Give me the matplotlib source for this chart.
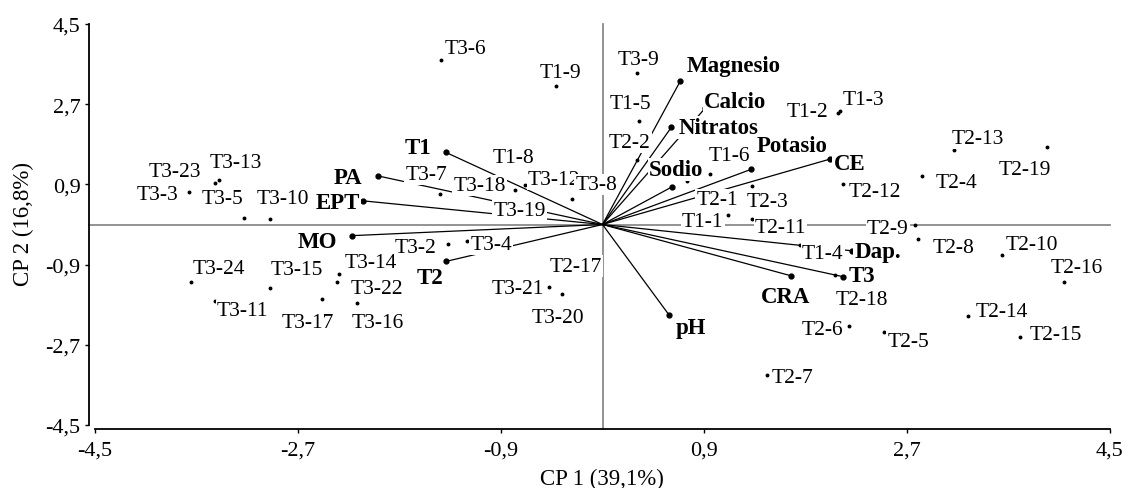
import matplotlib
matplotlib.use('Agg')
import matplotlib.pyplot as plt

# ---------------- data ----------------
sample_names = ['T3-6', 'T1-9', 'T3-9', 'T1-5', 'T2-2', 'T1-2', 'T1-3', 'T1-6', 'T2-1', 'T2-3',
                'T1-1', 'T2-11', 'T2-9', 'T2-12', 'T2-4', 'T2-13', 'T2-19', 'T2-8', 'T2-10', 'T2-16',
                'T2-14', 'T2-15', 'T2-5', 'T2-6', 'T2-7', 'T2-18', 'T1-4', 'T2-17', 'T3-21', 'T3-20',
                'T3-2', 'T3-4', 'T3-19', 'T3-12', 'T3-8', 'T1-8', 'T3-18', 'T3-7', 'T3-23', 'T3-13',
                'T3-3', 'T3-5', 'T3-10', 'T3-24', 'T3-15', 'T3-14', 'T3-22', 'T3-11', 'T3-17', 'T3-16']
sample_x = [-1.43, -0.41, 0.31, 0.32, 0.31, 2.09, 2.11, 0.95, 0.75, 1.33,
            1.11, 1.33, 2.77, 2.13, 2.83, 3.12, 3.94, 2.80, 3.54, 4.09,
            3.24, 3.70, 2.50, 2.19, 1.46, 2.06, 1.75, -0.11, -0.47, -0.36,
            -1.37, -1.20, -0.64, -0.27, -0.02, -0.69, -0.78, -1.44, -3.44, -3.40,
            -3.67, -3.18, -2.95, -3.65, -2.95, -2.34, -2.35, -3.44, -2.49, -2.18]
sample_y = [3.70, 3.10, 3.41, 2.33, 1.45, 2.50, 2.54, 1.13, 0.98, 0.86,
            0.22, 0.12, 0.00, 0.91, 1.08, 1.68, 1.74, -0.33, -0.68, -1.28,
            -2.06, -2.53, -2.42, -2.27, -3.37, -1.13, -0.46, -0.82, -1.41, -1.57,
            -0.44, -0.36, 0.35, 0.57, 0.80, 0.89, 0.77, 0.68, 0.93, 1.00,
            0.74, 0.15, 0.12, -1.28, -1.42, -1.11, -1.30, -1.72, -1.67, -1.76]

var_names = ['Magnesio', 'Calcio', 'Nitratos', 'Sodio', 'Potasio', 'CE', 'Dap.', 'T3', 'CRA',
             'pH', 'MO', 'T2', 'EPT', 'PA', 'T1']
var_x = [0.69, 0.91, 0.61, 0.62, 1.32, 2.02, 2.21, 2.13, 1.67, 0.59, -2.22, -1.39, -2.12, -1.99, -1.39]
var_y = [3.22, 2.61, 2.18, 0.85, 1.24, 1.47, -0.59, -1.17, -1.15, -2.03, -0.25, -0.83, 0.53, 1.09, 1.62]

ticks = [-4.5, -2.7, -0.9, 0.9, 2.7, 4.5]
tick_labels = ['-4,5', '-2,7', '-0,9', '0,9', '2,7', '4,5']
x_title = 'CP 1 (39,1%)'
y_title = 'CP 2 (16,8%)'

# ---------------- layout (label offsets in pixels: dx to centre, dy to baseline) ----------------
sample_offsets = {
    'T3-6': (24, 6.5), 'T1-9': (4, 9.5), 'T3-9': (1, 8.5), 'T1-5': (-8, 12.5), 'T2-2': (-7.5, 13.3),
    'T1-2': (-31, -2.5), 'T1-3': (23, 7.5), 'T1-6': (20, 14.5), 'T2-1': (30, -23.5), 'T2-3': (15, -19.5),
    'T1-1': (-25, -11), 'T2-11': (28, -12.5), 'T2-9': (-27, -8), 'T2-12': (32, -12.5), 'T2-4': (35, -10.5),
    'T2-13': (23, 6.5), 'T2-19': (-22, -27.5), 'T2-8': (35, -12.5), 'T2-10': (30, 5.5), 'T2-16': (13, 9.5),
    'T2-14': (34, 0.5), 'T2-15': (36, -1.5), 'T2-5': (24, -13.5), 'T2-6': (-27, -8.5), 'T2-7': (25, -7.5),
    'T2-18': (27, -29.5), 'T1-4': (23, -13.5), 'T2-17': (-14, -9.5), 'T3-21': (-32, -5.5), 'T3-20': (-4, -27.5),
    'T3-2': (-32, -7.5), 'T3-4': (24, -8.5), 'T3-19': (-11, -6.5), 'T3-12': (-18, 15.5), 'T3-8': (-4, 0),
    'T1-8': (-11, 22.5), 'T3-18': (-35, 0.5), 'T3-7': (-14, 15.5), 'T3-23': (-40, 7.5), 'T3-13': (17, 12.5),
    'T3-3': (-31, -7.5), 'T3-5': (-21, 14.5), 'T3-10': (13, 16.5), 'T3-24': (28, 8.5), 'T3-15': (27, 13.5),
    'T3-14': (32, 6.5), 'T3-22': (39, -10.5), 'T3-11': (28, -13.5), 'T3-17': (-14, -28.5), 'T3-16': (21, -24.5),
}
var_offsets = {
    'Magnesio': (53.5, 9.7), 'Calcio': (30, 1.5), 'Nitratos': (47, -5.5), 'Sodio': (4, 11.5),
    'Potasio': (41, 18.5), 'CE': (19, -9.5), 'Dap.': (26, -6.3), 'T3': (19, -4.5), 'CRA': (-5, -26.5),
    'pH': (22, -18), 'MO': (-35, -11.5), 'T2': (-16, -21.5), 'EPT': (-26, -7.5), 'PA': (-30, -7.5),
    'T1': (-28, -0.5),
}

plt.rcParams['font.family'] = ['Liberation Serif', 'DejaVu Serif']

W, H = 1135, 489
fig = plt.figure(figsize=(W / 100, H / 100), dpi=100)
ax = fig.add_axes([95 / W, 63 / H, 1015 / W, 401 / H])
ax.set_xlim(-4.5, 4.5)
ax.set_ylim(-4.5, 4.5)

# reference lines
ax.axhline(0, xmin=-0.006, xmax=1.0, color='#8a8a8a', lw=1.3, zorder=1, clip_on=False)
ax.axvline(0, ymin=-0.01, ymax=1.0, color='#8a8a8a', lw=1.3, zorder=1, clip_on=False)

# variable vectors
for vx, vy in zip(var_x, var_y):
    ax.plot([0, vx], [0, vy], color='black', lw=0.9, zorder=2, solid_capstyle='butt')
ax.plot(var_x, var_y, 'o', color='black', markersize=3.5, zorder=2.5, linestyle='none')

# sample points
ax.plot(sample_x, sample_y, 'o', color='black', markersize=1.8, zorder=2.5, linestyle='none')

box = dict(boxstyle='square,pad=0.05', fc='white', ec='none')
for n, x, y in zip(sample_names, sample_x, sample_y):
    dx, dy = sample_offsets[n]
    ax.annotate(n, (x, y), xytext=(dx, dy), textcoords='offset pixels', ha='center', va='baseline',
                fontsize=15.5, color='black', bbox=box, zorder=3)
for n, x, y in zip(var_names, var_x, var_y):
    dx, dy = var_offsets[n]
    ax.annotate(n, (x, y), xytext=(dx, dy), textcoords='offset pixels', ha='center', va='baseline',
                fontsize=16.5, fontweight='bold', color='black', bbox=box, zorder=3)

# axes styling
for s in ['top', 'right']:
    ax.spines[s].set_visible(False)
ax.spines['left'].set_position(('outward', 4.3))
ax.spines['bottom'].set_position(('outward', 3))
ax.spines['left'].set_bounds(-4.5, 4.5)
ax.spines['bottom'].set_bounds(-4.5, 4.5)
for s in ['left', 'bottom']:
    ax.spines[s].set_linewidth(1.3)
ax.set_xticks(ticks)
ax.set_xticklabels(tick_labels)
ax.set_yticks(ticks)
ax.set_yticklabels(tick_labels)
ax.tick_params(axis='both', direction='out', length=3, width=1, labelsize=16, color='black')
ax.tick_params(axis='x', pad=5)
ax.tick_params(axis='y', pad=3)

fig.text(602 / W, 1 - 479 / H, x_title, ha='center', va='center', fontsize=16.5)
fig.text(23 / W, 1 - 224 / H, y_title, ha='center', va='center', rotation=90, fontsize=16.5)

fig.savefig('out.png', dpi=100, facecolor='white')
